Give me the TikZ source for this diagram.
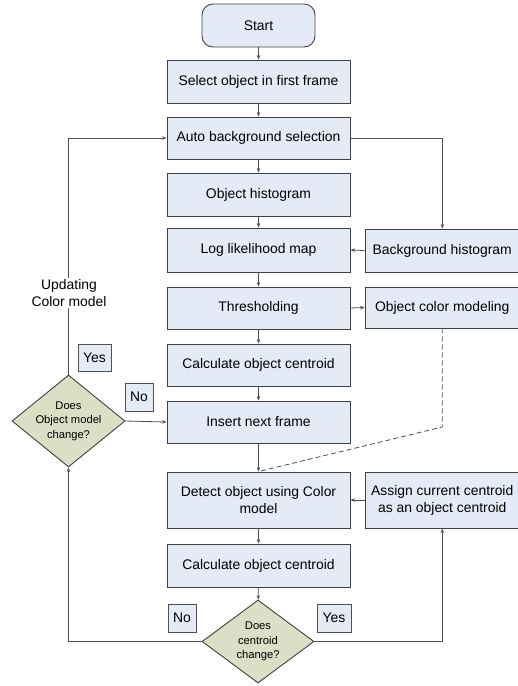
\documentclass[tikz,border=0pt]{standalone}
\usepackage{fontspec}
\setmainfont{Liberation Sans}
\usetikzlibrary{shapes.geometric,arrows.meta}
\definecolor{boxfill}{HTML}{E4EBF6}
\definecolor{boxline}{HTML}{404040}
\definecolor{decfill}{HTML}{DCDEC6}
\definecolor{wire}{HTML}{505050}
\tikzset{
  procbox/.style={draw=boxline, line width=0.9pt, fill=boxfill, minimum width=183pt,
    inner sep=2pt, align=center, font=\fontsize{13.9}{17}\selectfont},
  sidebox/.style={procbox, minimum width=154.5pt},
  startbox/.style={procbox, rounded corners=11pt, minimum width=113pt, minimum height=43pt},
  decshape/.style={draw=boxline, line width=0.9pt, fill=decfill, shape=diamond, inner sep=0pt},
  dectext/.style={align=center, inner sep=0pt, font=\fontsize{11.2}{14.5}\selectfont},
  tagbox/.style={draw=wire, line width=0.8pt, fill=boxfill, inner sep=0pt,
    minimum height=27pt, font=\fontsize{13.9}{16}\selectfont},
  arr/.style={draw=wire, line width=0.8pt, -{Stealth[length=4.5pt,width=3.5pt]}},
  plain/.style={draw=wire, line width=0.8pt},
}
\begin{document}
\begin{tikzpicture}[x=1pt,y=-1pt]
\clip (0,0) rectangle (518,686);
\fill[white] (0,0) rectangle (518,686);

% main column
\node[startbox] (start) at (258.5,25.5) {Start};
\node[procbox, minimum height=43pt] (b1) at (258.5,81.5) {Select object in first frame};
\node[procbox, minimum height=42pt] (b2) at (258.5,138) {Auto background selection};
\node[procbox, minimum height=43pt] (b3) at (258.5,194.5) {Object histogram};
\node[procbox, minimum height=44pt] (b4) at (258.5,250) {Log likelihood map};
\node[procbox, minimum height=42pt] (b5) at (258.5,308) {Thresholding};
\node[procbox, minimum height=42pt] (b6) at (258.5,365) {Calculate object centroid};
\node[procbox, minimum height=42pt] (b7) at (258.5,422) {Insert next frame};
\node[procbox, minimum height=56pt] (b8) at (258.5,500) {Detect object using Color\\model};
\node[procbox, minimum height=43pt] (b9) at (258.5,565.5) {Calculate object centroid};

% right column (runs off the right edge)
\node[sidebox, minimum height=43pt] (bg) at (442.25,250.5) {Background histogram};
\node[sidebox, minimum height=41pt] (oc) at (442.25,307.5) {Object color modeling};
\node[sidebox, minimum height=56pt] (as) at (442.25,500) {Assign current centroid\\as an object centroid};

% decisions
\node[decshape, minimum width=113pt, minimum height=92pt] (d1) at (68.5,421) {};
\node[dectext] at (d1) {Does\\Object model\\change?};
\node[decshape, minimum width=112pt, minimum height=83pt] (d2) at (258,641.5) {};
\node[dectext] at (d2) {Does\\centroid\\change?};

% yes / no tags
\node[tagbox, minimum width=33pt] (yes1) at (94.5,357.5) {Yes};
\node[tagbox, minimum width=28pt, minimum height=28pt] (no1) at (139,397) {No};
\node[tagbox, minimum width=28pt, minimum height=28pt] (no2) at (182,618) {No};
\node[tagbox, minimum width=34pt, minimum height=28pt] (yes2) at (334,618) {Yes};

% main flow
\draw[arr] (start) -- (b1);
\draw[arr] (b1) -- (b2);
\draw[arr] (b2) -- (b3);
\draw[arr] (b3) -- (b4);
\draw[arr] (b4) -- (b5);
\draw[arr] (b5) -- (b6);
\draw[arr] (b6) -- (b7);
\draw[arr] (b7) -- (b8);
\draw[arr] (b8) -- (b9);
\draw[arr] (b9) -- (d2);

% side branches
\draw[arr] (b2.east) -| (bg.north);
\draw[arr] (bg.west) -- (b4.east);
\draw[arr] (b5.east) -- (oc.west);
\coordinate (kink) at (442.25,427);
\draw[plain, dashed, dash pattern=on 5pt off 3pt] (oc.south) -- (kink) -- (b8.north);
\draw[arr] (as.west) -- (b8.east);

% loops
\draw[arr] (d1.north) |- (b2.west);
\node[fill=white, align=center, inner sep=1pt, font=\fontsize{13.9}{17}\selectfont] (upd) at (69,293) {Updating\\Color model};
\draw[arr] (d1.east) -- (b7.west);
\draw[arr] (d2.west) -| (d1.south);
\draw[arr] (d2.east) -| (as.south);
\end{tikzpicture}
\end{document}
